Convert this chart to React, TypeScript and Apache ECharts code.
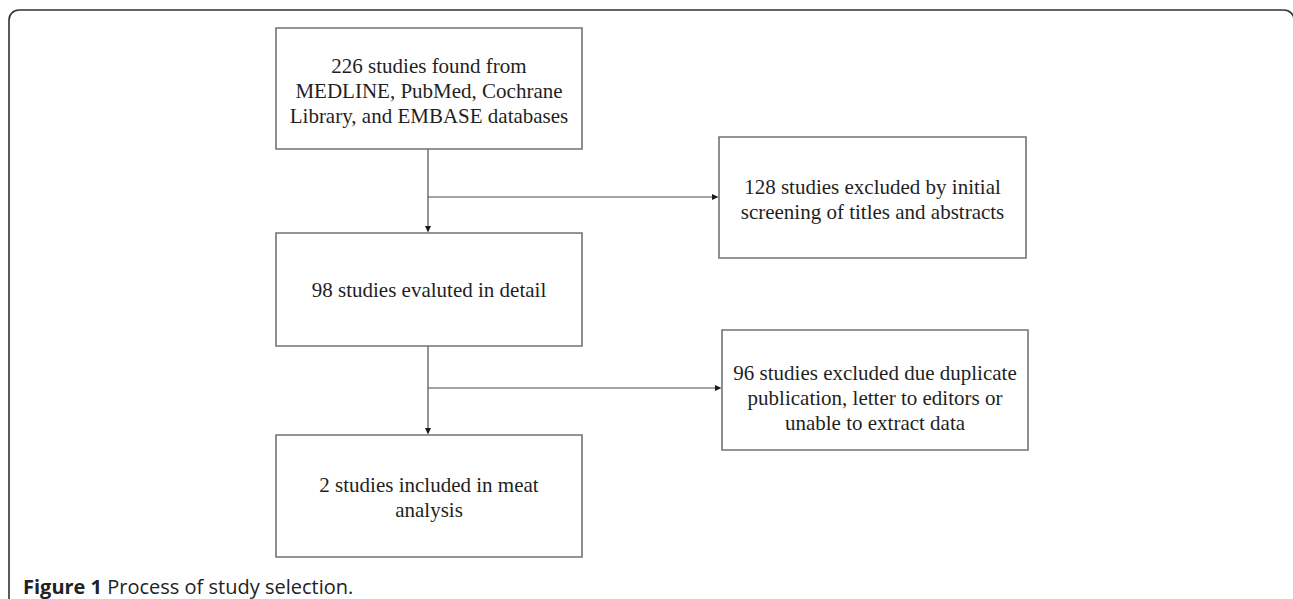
import React, { useEffect, useRef } from "react";
import * as echarts from "echarts";

// Flowchart content
const mainSteps: string[] = [
  "226 studies found from\nMEDLINE, PubMed, Cochrane\nLibrary, and EMBASE databases",
  "98 studies evaluted in detail",
  "2 studies included in meat\nanalysis",
];
const exclusions: string[] = [
  "128 studies excluded by initial\nscreening of titles and abstracts",
  "96 studies excluded due duplicate\npublication, letter to editors or\nunable to extract data",
];
const captionBold = "Figure 1";
const captionText = " Process of study selection.";

// Layout (pixels)
const mainBoxes = [
  { x: 276, y: 28, w: 306, h: 121, ty: 90.5 },
  { x: 276, y: 233, w: 306, h: 113, ty: 290 },
  { x: 276, y: 435, w: 306, h: 122, ty: 497 },
];
const sideBoxes = [
  { x: 719, y: 137, w: 307, h: 121, ty: 199.5 },
  { x: 722, y: 330, w: 306, h: 120, ty: 398 },
];
const branchY = [197, 388];
const spineX = 428;

export default function App() {
  const ref = useRef<HTMLDivElement>(null);
  useEffect(() => {
    if (!ref.current) return;
    const chart = echarts.init(ref.current, null, { renderer: "svg" });
    const boxStroke = "#737373";
    const lineStroke = "#4d4d4d";
    const textStyle = {
      fontFamily: "Liberation Serif",
      fontSize: 21,
      lineHeight: 25,
      fill: "#1f1f1f",
      align: "center",
      verticalAlign: "middle",
    };
    const elements: any[] = [];
    // outer frame
    elements.push({
      type: "rect",
      z: 0,
      shape: { x: 9, y: 10, width: 1285, height: 640, r: 10 },
      style: { fill: "none", stroke: "#333", lineWidth: 1.6 },
    });
    // connectors
    for (let i = 0; i < 2; i++) {
      const top = mainBoxes[i].y + mainBoxes[i].h;
      const bot = mainBoxes[i + 1].y;
      elements.push({
        type: "line",
        z: 1,
        shape: { x1: spineX, y1: top, x2: spineX, y2: bot - 4 },
        style: { stroke: lineStroke, lineWidth: 1.2 },
      });
      elements.push({
        type: "polygon",
        z: 3,
        shape: { points: [[spineX - 3, bot - 7], [spineX + 3, bot - 7], [spineX, bot - 0.5]] },
        style: { fill: "#1a1a1a" },
      });
      const by = branchY[i];
      const sx = sideBoxes[i].x;
      elements.push({
        type: "line",
        z: 1,
        shape: { x1: spineX, y1: by, x2: sx - 4, y2: by },
        style: { stroke: lineStroke, lineWidth: 1.2 },
      });
      elements.push({
        type: "polygon",
        z: 3,
        shape: { points: [[sx - 7, by - 3], [sx - 7, by + 3], [sx - 0.5, by]] },
        style: { fill: "#1a1a1a" },
      });
    }
    const addBox = (b: any, label: string) => {
      elements.push({
        type: "rect",
        z: 2,
        shape: { x: b.x, y: b.y, width: b.w, height: b.h },
        style: { fill: "#fff", stroke: boxStroke, lineWidth: 1.6 },
      });
      elements.push({
        type: "text",
        z: 4,
        x: b.x + b.w / 2,
        y: b.ty,
        style: { ...textStyle, text: label },
      });
    };
    mainBoxes.forEach((b, i) => addBox(b, mainSteps[i]));
    sideBoxes.forEach((b, i) => addBox(b, exclusions[i]));
    // caption
    elements.push({
      type: "text",
      z: 4,
      x: 23,
      y: 586,
      style: {
        text: "{b|" + captionBold + "}{r|" + captionText + "}",
        verticalAlign: "middle",
        rich: {
          b: { fontFamily: "Open Sans", fontWeight: "bold", fontSize: 20, fill: "#222" },
          r: { fontFamily: "Open Sans", fontSize: 20, fill: "#222" },
        },
      },
    });
    chart.setOption({
      animation: false,
      backgroundColor: "#fff",
      graphic: { elements },
    });
    return () => chart.dispose();
  }, []);
  return (
    <div
      ref={ref}
      style={{ position: "fixed", left: 0, top: 0, width: 1293, height: 599 }}
    />
  );
}
